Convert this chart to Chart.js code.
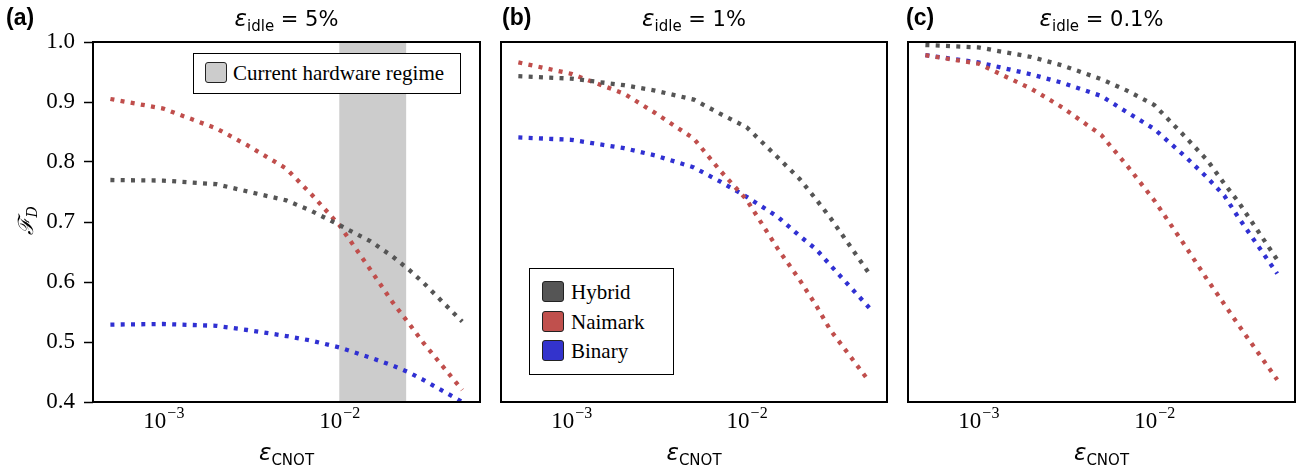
<!DOCTYPE html>
<html><head><meta charset="utf-8">
<script src="https://cdn.jsdelivr.net/npm/chart.js@4.4.1/dist/chart.umd.min.js"></script>
<style>
html,body{margin:0;padding:0;background:#fff;}
body{width:1304px;height:470px;overflow:hidden;position:relative;}
canvas{position:absolute;top:0;}
.t{position:absolute;white-space:nowrap;color:#000;line-height:1;}
.title{font-family:'DejaVu Sans';font-size:21px;text-align:center;top:7px;}
.title sub,.xl sub{font-size:15px;vertical-align:-5px;line-height:0;}
.e{font-style:italic;font-size:23px;}
.plab{font-family:'Liberation Sans';font-weight:bold;font-size:23px;top:6px;}
.xl{font-family:'DejaVu Sans';font-size:21px;text-align:center;top:441px;}
.yl{font-family:'DejaVu Serif';font-style:italic;font-size:21px;left:12px;top:210px;transform:rotate(-90deg);transform-origin:50% 50%;}
.yl sub{font-size:14px;vertical-align:-4px;line-height:0;font-style:italic;}
.leg{position:absolute;border:1.5px solid #000;background:#fff;box-sizing:border-box;}
.patch{position:absolute;width:22px;height:21px;border:1.5px solid #222;border-radius:3px;box-sizing:border-box;}
.lt{position:absolute;font-family:"Liberation Serif",serif;font-size:21px;line-height:1;white-space:nowrap;}
</style></head><body>
<canvas id="ca" width="490" height="470" style="left:0px;width:490px;height:470px"></canvas>
<canvas id="cb" width="407" height="470" style="left:490px;width:407px;height:470px"></canvas>
<canvas id="cc" width="407" height="470" style="left:897px;width:407px;height:470px"></canvas>

<div class="t plab" style="left:6px">(a)</div>
<div class="t plab" style="left:502px">(b)</div>
<div class="t plab" style="left:906px">(c)</div>

<div class="t title" style="left:93px;width:387px"><span class="e">ε</span><sub>idle</sub> = 5%</div>
<div class="t title" style="left:501px;width:386px"><span class="e">ε</span><sub>idle</sub> = 1%</div>
<div class="t title" style="left:908px;width:387px"><span class="e">ε</span><sub>idle</sub> = 0.1%</div>

<div class="t xl" style="left:93px;width:387px"><span class="e">ε</span><sub>CNOT</sub></div>
<div class="t xl" style="left:501px;width:386px"><span class="e">ε</span><sub>CNOT</sub></div>
<div class="t xl" style="left:908px;width:387px"><span class="e">ε</span><sub>CNOT</sub></div>

<div class="t yl">ℱ<sub>D</sub></div>

<div class="leg" style="left:193px;top:53px;width:268px;height:41px">
  <div class="patch" style="left:11px;top:8px;background:#cccccc"></div>
  <div class="lt" style="left:39px;top:9px">Current hardware regime</div>
</div>

<div class="leg" style="left:529px;top:268px;width:145px;height:107px">
  <div class="patch" style="left:12px;top:12px;background:#555555"></div>
  <div class="lt" style="left:41px;top:13px">Hybrid</div>
  <div class="patch" style="left:12px;top:42px;background:#c0504d"></div>
  <div class="lt" style="left:41px;top:43px">Naimark</div>
  <div class="patch" style="left:12px;top:71px;background:#3333cc"></div>
  <div class="lt" style="left:41px;top:72px">Binary</div>
</div>

<script>
// ---- data ----
const epsCNOT = [5e-4, 1e-3, 2e-3, 3e-3, 5e-3, 7e-3, 1e-2, 1.5e-2, 2e-2, 2.5e-2, 3e-2, 5e-2];

const hybridA  = [0.770, 0.769, 0.763, 0.751, 0.736, 0.718, 0.695, 0.668, 0.643, 0.620, 0.599, 0.534];
const naimarkA = [0.905, 0.889, 0.856, 0.828, 0.789, 0.745, 0.695, 0.621, 0.567, 0.530, 0.499, 0.420];
const binaryA  = [0.529, 0.530, 0.527, 0.520, 0.510, 0.502, 0.491, 0.474, 0.461, 0.449, 0.437, 0.400];

const hybridB  = [0.943, 0.939, 0.928, 0.919, 0.904, 0.881, 0.858, 0.808, 0.772, 0.737, 0.707, 0.614];
const naimarkB = [0.966, 0.947, 0.914, 0.882, 0.839, 0.787, 0.737, 0.656, 0.604, 0.560, 0.520, 0.434];
const binaryB  = [0.841, 0.837, 0.823, 0.811, 0.791, 0.768, 0.742, 0.709, 0.677, 0.654, 0.628, 0.557];

const hybridC  = [0.995, 0.991, 0.975, 0.961, 0.938, 0.919, 0.895, 0.842, 0.803, 0.764, 0.734, 0.637];
const naimarkC = [0.978, 0.964, 0.922, 0.891, 0.845, 0.794, 0.736, 0.660, 0.604, 0.563, 0.529, 0.437];
const binaryC  = [0.978, 0.966, 0.946, 0.932, 0.910, 0.883, 0.855, 0.809, 0.774, 0.744, 0.708, 0.614];

const seriesNames = ['Hybrid', 'Naimark', 'Binary'];
const xTickValues = [1e-3, 1e-2];
const xTickExponents = ['\u22123', '\u22122'];
const hardwareRegime = [1e-2, 2.4e-2];
const yMin = 0.4, yMax = 1.0, yStep = 0.1;
const xMin = Math.pow(10, -3.4), xMax = Math.pow(10, -1.2);

// ---- styles ----
const colors = ['rgba(85,85,85,1)', 'rgba(192,78,76,1)', 'rgba(48,48,210,1)'];

const panelPlugin = {
  id: 'panel',
  beforeDatasetsDraw(chart, args, opts) {
    if (!opts.band) return;
    const {ctx, chartArea: a, scales: {x}} = chart;
    const x0 = x.getPixelForValue(opts.band[0]);
    const x1 = x.getPixelForValue(opts.band[1]);
    ctx.save();
    ctx.fillStyle = '#cccccc';
    ctx.fillRect(x0, a.top, x1 - x0, a.bottom - a.top);
    ctx.restore();
  },
  afterDraw(chart) {
    const {ctx, chartArea: a, scales: {x}} = chart;
    ctx.save();
    ctx.strokeStyle = '#000';
    ctx.lineWidth = 2;
    ctx.strokeRect(a.left, a.top, a.right - a.left, a.bottom - a.top);
    ctx.fillStyle = '#000';
    ctx.textBaseline = 'alphabetic';
    ctx.textAlign = 'left';
    xTickValues.forEach((v, i) => {
      const px = x.getPixelForValue(v);
      ctx.font = '23px "Liberation Serif"';
      const w1 = ctx.measureText('10').width;
      ctx.font = '16px "Liberation Serif"';
      const w2 = ctx.measureText(xTickExponents[i]).width;
      const x0 = px - (w1 + w2) / 2;
      ctx.font = '23px "Liberation Serif"';
      ctx.fillText('10', x0, a.bottom + 26);
      ctx.font = '16px "Liberation Serif"';
      ctx.fillText(xTickExponents[i], x0 + w1 + 1, a.bottom + 16);
    });
    ctx.restore();
  }
};

function makeChart(id, series, showY, padLeft, padRight, band) {
  const datasets = series.map((vals, i) => ({
    label: seriesNames[i],
    data: vals.map((v, j) => ({x: epsCNOT[j], y: v})),
    borderColor: colors[i],
    backgroundColor: colors[i],
    borderWidth: 4.3,
    borderDash: [4, 6.3],
    borderCapStyle: 'butt',
    pointRadius: 0,
    tension: 0,
    fill: false
  }));
  const yScale = {
    display: showY,
    min: yMin, max: yMax,
    ticks: {
      stepSize: yStep,
      color: '#000',
      padding: 9,
      font: {family: 'Liberation Serif', size: 23},
      callback: v => Number(v).toFixed(1)
    },
    grid: {display: true, drawOnChartArea: false, drawTicks: true, tickLength: 9, tickWidth: 1.5, tickColor: '#000'},
    border: {display: false}
  };
  if (showY) yScale.afterFit = s => { s.width = 93; };
  return new Chart(document.getElementById(id), {
    type: 'line',
    data: {datasets},
    options: {
      responsive: false,
      animation: false,
      devicePixelRatio: 1,
      layout: {padding: {top: 42, right: padRight, left: padLeft, bottom: 0}},
      plugins: {legend: {display: false}, tooltip: {enabled: false}, title: {display: false}, panel: {band}},
      scales: {
        x: {
          type: 'logarithmic', min: xMin, max: xMax,
          ticks: {display: false},
          grid: {display: false},
          border: {display: false},
          afterFit(s) { s.height = 68; }
        },
        y: yScale
      }
    },
    plugins: [panelPlugin]
  });
}

makeChart('ca', [hybridA, naimarkA, binaryA], true, 0, 10, hardwareRegime);
makeChart('cb', [hybridB, naimarkB, binaryB], false, 11, 10, null);
makeChart('cc', [hybridC, naimarkC, binaryC], false, 11, 9, null);
</script>
</body></html>
